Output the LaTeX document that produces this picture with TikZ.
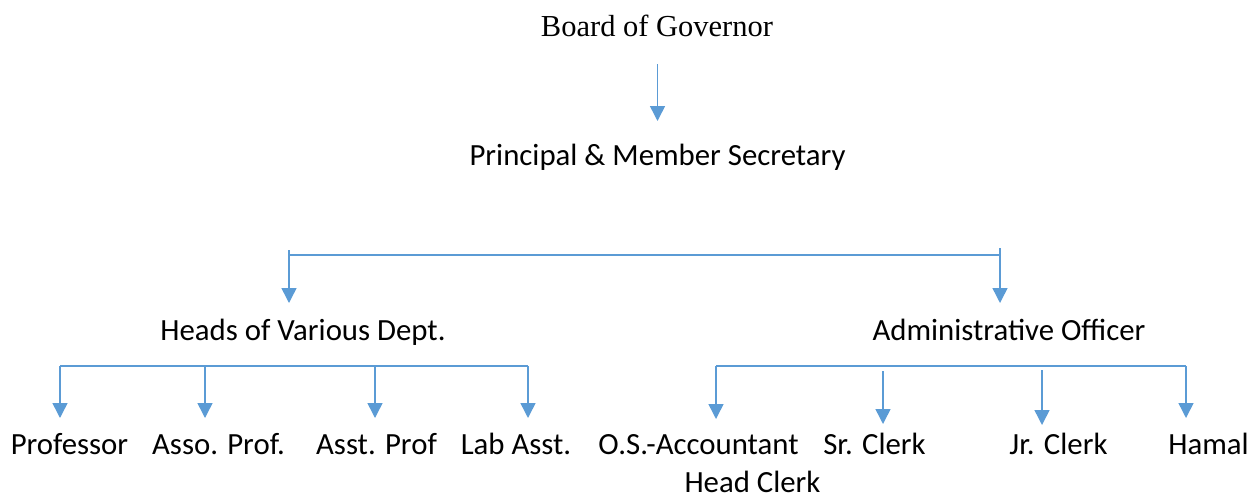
\documentclass[tikz,border=0pt]{standalone}
\usepackage{fontspec}
\setmainfont{Carlito}
\newfontfamily\timesf{Liberation Serif}
\usetikzlibrary{arrows.meta}
\definecolor{lineblue}{HTML}{5B9BD5}
\tikzset{
  lbl/.style={anchor=base, inner sep=0pt, font=\fontsize{30.8}{36}\selectfont},
  ttl/.style={anchor=base, inner sep=0pt, font=\timesf\fontsize{30.5}{36}\selectfont},
  conn/.style={draw=lineblue, line width=1.5pt},
  arr/.style={conn, -{Triangle[width=15pt,length=15pt]}}
}
\begin{document}
\begin{tikzpicture}[x=1pt,y=-1pt]
\useasboundingbox (0,0) rectangle (1252,498);
% text nodes
\node[ttl] (board) at (657,36) {Board of Governor};
\node[lbl] (princ) at (657.5,165) {Principal \& Member Secretary};
\node[lbl] (heads) at (303,340) {Heads of Various Dept.};
\node[lbl] (admin) at (1009,340) {Administrative Officer};
\node[lbl] (prof) at (69.5,454) {Professor};
\node[lbl] (asso) at (218.5,454) {Asso. Prof.};
\node[lbl] (asst) at (376.5,454) {Asst. Prof};
\node[lbl] (lab) at (516,454) {Lab Asst.};
\node[lbl] (os) at (698.5,454) {O.S.-Accountant};
\node[lbl] (hc) at (752.5,492) {Head Clerk};
\node[lbl] (sr) at (874.5,454) {Sr. Clerk};
\node[lbl] (jr) at (1058.5,454) {Jr. Clerk};
\node[lbl] (hamal) at (1208.5,454) {Hamal};
% coordinates
\coordinate (b0) at (657.5,64);
\coordinate (b1) at (657.5,121);
\coordinate (tL) at (289,250);
\coordinate (tR) at (1000,248);
\coordinate (tLa) at (289,255);
\coordinate (tRa) at (1000,255);
\coordinate (hL) at (289,303);
\coordinate (hR) at (1000,303);
\coordinate (l1) at (60,366);
\coordinate (l2) at (205,366);
\coordinate (l3) at (375,366);
\coordinate (l4) at (528,366);
\coordinate (l1t) at (60,418);
\coordinate (l2t) at (205,418);
\coordinate (l3t) at (375,418);
\coordinate (l4t) at (528,418);
\coordinate (r1) at (716,366);
\coordinate (r4) at (1186,366);
\coordinate (r2s) at (883,371);
\coordinate (r3s) at (1042,370);
\coordinate (r1t) at (716,419);
\coordinate (r2t) at (883,424);
\coordinate (r3t) at (1042,425);
\coordinate (r4t) at (1186,418);
% connectors
\draw[arr] (b0) -- (b1);
\draw[conn] (tLa) -- (tRa);
\draw[arr] (tL) -- (hL);
\draw[arr] (tR) -- (hR);
\draw[conn] (l1) -- (l4);
\draw[arr] (l1) -- (l1t);
\draw[arr] (l2) -- (l2t);
\draw[arr] (l3) -- (l3t);
\draw[arr] (l4) -- (l4t);
\draw[conn] (r1) -- (r4);
\draw[arr] (r1) -- (r1t);
\draw[arr] (r2s) -- (r2t);
\draw[arr] (r3s) -- (r3t);
\draw[arr] (r4) -- (r4t);
\end{tikzpicture}
\end{document}
